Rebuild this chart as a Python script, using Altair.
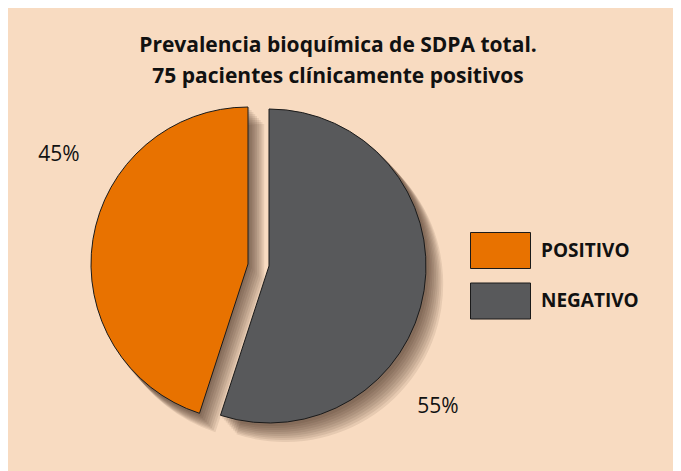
import altair as alt
import pandas as pd

categories = ["NEGATIVO", "POSITIVO"]
values = [55, 45]
legend_order = ["POSITIVO", "NEGATIVO"]
colors = ["#E87200", "#58595B"]
title_lines = ["Prevalencia bioquímica de SDPA total.", "75 pacientes clínicamente positivos"]

df = pd.DataFrame({"cat": categories, "val": values})

W, H = 665, 463
BG = "#F8DBC1"
R = 157
centers = {"NEGATIVO": (261, 258), "POSITIVO": (240, 256)}
label_pos = {"NEGATIVO": (430, 399), "POSITIVO": (51, 147)}

base = alt.Chart(df).transform_window(
    end="sum(val)", frame=[None, 0]
).transform_calculate(
    start="datum.end - datum.val", label="datum.val + '%'"
)

theta_scale = alt.Scale(domain=[0, 100], range=[0, 6.283185307179586])

color = alt.Color(
    "cat:N",
    scale=alt.Scale(domain=legend_order, range=colors),
    legend=alt.Legend(
        title=None,
        orient="none",
        legendX=467,
        legendY=217,
        padding=0,
        rowPadding=4.5,
        symbolType="M-1.2,-0.72H1.2V0.72H-1.2Z",
        symbolSize=2500,
        symbolStrokeColor="#1a1a1a",
        symbolStrokeWidth=1,
        symbolOpacity=1,
        labelOffset=15,
        labelFont="Open Sans",
        labelFontSize=19,
        labelFontWeight="bold",
        labelColor="#111111",
    ),
)

layers = []
# soft drop shadows
for cat in categories:
    cx, cy = centers[cat]
    for d in [2, 4, 6, 8, 10, 12, 14, 16, 18]:
        layers.append(
            base.transform_filter(alt.datum.cat == cat).mark_arc(
                x=cx + d * 0.9, y=cy + d, outerRadius=R + 1, color="#2a1c10", opacity=0.085
            ).encode(
                theta=alt.Theta("start:Q", stack=None, scale=theta_scale),
                theta2="end:Q",
            )
        )

for cat in categories:
    cx, cy = centers[cat]
    layers.append(
        base.transform_filter(alt.datum.cat == cat).mark_arc(
            x=cx, y=cy, outerRadius=R, stroke="#1a1a1a", strokeWidth=1, opacity=1
        ).encode(
            theta=alt.Theta("start:Q", stack=None, scale=theta_scale),
            theta2="end:Q",
            color=color,
        )
    )

for cat in categories:
    lx, ly = label_pos[cat]
    layers.append(
        base.transform_filter(alt.datum.cat == cat).mark_text(
            x=lx, y=ly, font="Open Sans", fontSize=21, color="#111111", baseline="middle", align="center"
        ).encode(text="label:N")
    )

for i, line in enumerate(title_lines):
    layers.append(
        alt.Chart(pd.DataFrame({"t": [line]})).mark_text(
            x=330, y=38 + 31 * i, font="Open Sans", fontSize=21, fontWeight="bold",
            color="#111111", baseline="middle", align="center"
        ).encode(text="t:N")
    )

chart = alt.layer(*layers).properties(
    width=W, height=H, background=BG, padding=0,
    autosize=alt.AutoSizeParams(type="none"),
).configure_view(stroke=None)

chart.save("out.html", embed_options={"renderer": "svg", "actions": False})
